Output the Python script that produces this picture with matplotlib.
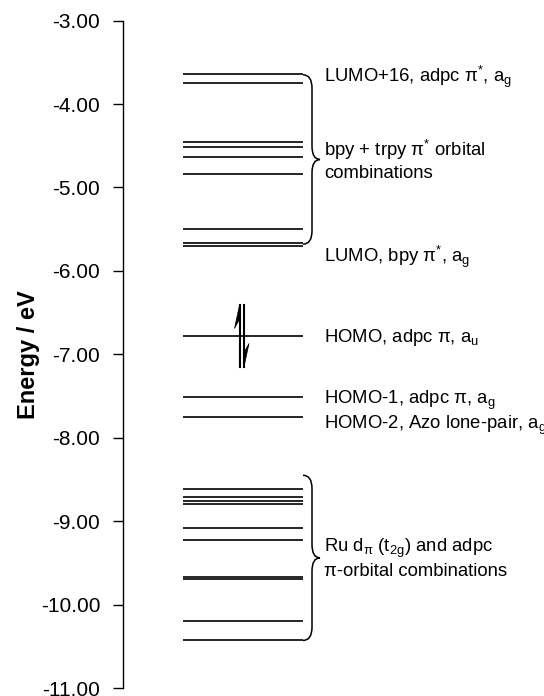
import matplotlib
matplotlib.use('Agg')
import matplotlib.pyplot as plt
from matplotlib.path import Path
from matplotlib.patches import PathPatch, Polygon
from matplotlib.ticker import FormatStrFormatter

plt.rcParams['font.family'] = ['Liberation Sans', 'DejaVu Sans']
plt.rcParams['mathtext.fontset'] = 'custom'
plt.rcParams['mathtext.rm'] = 'Liberation Sans'

# orbital energies (eV)
levels = [-3.64, -3.75, -4.46, -4.52, -4.63, -4.84, -5.50, -5.67, -5.70,
          -6.78, -7.51, -7.75,
          -8.61, -8.71, -8.76, -8.80, -9.08, -9.23, -9.67, -9.69, -10.20, -10.42]
homo = -6.78

# labels next to the levels
label_text = [r'LUMO+16, adpc π$^\mathregular{*}$, a$_\mathregular{g}$',
              'bpy + trpy π$^\\mathregular{*}$ orbital\ncombinations',
              r'LUMO, bpy π$^\mathregular{*}$, a$_\mathregular{g}$',
              r'HOMO, adpc π, a$_\mathregular{u}$',
              r'HOMO-1, adpc π, a$_\mathregular{g}$',
              r'HOMO-2, Azo lone-pair, a$_\mathregular{g}$',
              'Ru d$_\\mathregular{π}$ (t$_\\mathregular{2g}$) and adpc\nπ-orbital combinations']
label_e = [-3.68, -4.67, -5.83, -6.80, -7.55, -7.85, -9.45]

# braces (top, bottom) in eV
braces = [(-3.65, -5.68), (-8.45, -10.43)]

fig = plt.figure(figsize=(5.44, 6.96), dpi=100)
ax = fig.add_axes([122.5 / 544, 8 / 696, 1 - 122.5 / 544, (688 - 20.6) / 696])
ax.set_xlim(122.5, 544)
ax.set_ylim(-11, -3)

for e in levels:
    ax.plot([183, 303], [e, e], color='#262626', lw=1.4, solid_capstyle='butt')

# electron pair on HOMO
top, bot = homo + 0.37, homo - 0.37
ax.plot([239.5, 239.5], [bot, top], color='black', lw=1.5)
ax.add_patch(Polygon([(239.5, top), (234.5, top - 0.28), (239.5, top - 0.17)],
                     closed=True, color='black', lw=0.5))
ax.plot([244, 244], [bot, top], color='black', lw=1.5)
ax.add_patch(Polygon([(244, bot), (249, bot + 0.28), (244, bot + 0.17)],
                     closed=True, color='black', lw=0.5))

# curly braces
for yt, yb in braces:
    ym = (yt + yb) / 2
    x0, x1, xc, r = 303, 312, 320, 0.16
    verts = [(x0, yt), (x1, yt), (x1, yt - r),
             (x1, ym + r), (x1, ym), (xc, ym),
             (x1, ym), (x1, ym - r),
             (x1, yb + r), (x1, yb), (x0, yb)]
    codes = [Path.MOVETO, Path.CURVE3, Path.CURVE3,
             Path.LINETO, Path.CURVE3, Path.CURVE3,
             Path.CURVE3, Path.CURVE3,
             Path.LINETO, Path.CURVE3, Path.CURVE3]
    ax.add_patch(PathPatch(Path(verts, codes), fill=False, color='black', lw=1.1))

for t, e in zip(label_text, label_e):
    ax.text(324, e, t, fontsize=13.3, va='center', ha='left', linespacing=1.2)

ax.set_yticks(range(-11, -2))
ax.yaxis.set_major_formatter(FormatStrFormatter('%.2f'))
ax.tick_params(axis='y', direction='out', length=7, width=1, labelsize=15, pad=9)
ax.set_xticks([])
for s in ['top', 'right', 'bottom']:
    ax.spines[s].set_visible(False)
ax.spines['left'].set_linewidth(1)

fig.text(29 / 544, 1 - 355 / 696, 'Energy / eV', rotation=90, fontsize=17,
         fontweight='bold', ha='center', va='center')

fig.savefig('out.png', dpi=100)
